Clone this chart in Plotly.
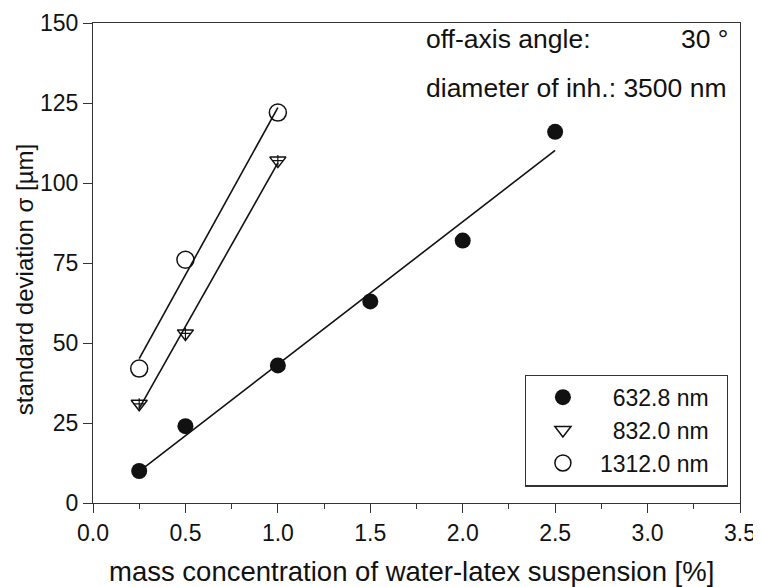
import numpy as np
import plotly.graph_objects as go

# data
x_6328 = [0.25, 0.5, 1.0, 1.5, 2.0, 2.5]
y_6328 = [10, 24, 43, 63, 82, 116]
x_8320 = [0.25, 0.5, 1.0]
y_8320 = [31, 53, 107]
x_13120 = [0.25, 0.5, 1.0]
y_13120 = [42, 76, 122]
series_names = ["632.8 nm", "832.0 nm", "1312.0 nm"]
x_ticks = [0.0, 0.5, 1.0, 1.5, 2.0, 2.5, 3.0, 3.5]
y_ticks = [0, 25, 50, 75, 100, 125, 150]

FONT = "Liberation Sans, Arial, sans-serif"
INK = "#111111"

fig = go.Figure()

# linear fit lines
for xs, ys in [(x_6328, y_6328), (x_8320, y_8320), (x_13120, y_13120)]:
    k, b = np.polyfit(xs, ys, 1)
    xf = [min(xs), max(xs)]
    fig.add_trace(go.Scatter(x=xf, y=[k * v + b for v in xf], mode="lines",
                             line=dict(color=INK, width=1.6), showlegend=False,
                             hoverinfo="skip"))

pad = "\u2007"
fig.add_trace(go.Scatter(x=x_6328, y=y_6328, mode="markers", name=pad + series_names[0] + pad,
                         marker=dict(symbol="circle", size=16, color=INK)))
fig.add_trace(go.Scatter(x=x_8320, y=y_8320, mode="markers", name=pad + series_names[1] + pad,
                         marker=dict(symbol="triangle-down-open", size=14,
                                     color=INK, line=dict(width=1.5, color=INK))))
fig.add_trace(go.Scatter(x=x_8320, y=y_8320, mode="markers", showlegend=False,
                         marker=dict(symbol="cross-thin-open", size=8,
                                     color=INK, line=dict(width=1.2, color=INK))))
fig.add_trace(go.Scatter(x=x_13120, y=y_13120, mode="markers", name=series_names[2] + pad,
                         marker=dict(symbol="circle-open", size=17,
                                     color=INK, line=dict(width=1.5, color=INK))))

ann_font = dict(size=26.5, color=INK, family=FONT)
fig.add_annotation(x=0.512, y=0.967, xref="paper", yref="paper", text="off-axis angle:",
                   showarrow=False, xanchor="left", yanchor="middle", font=ann_font)
fig.add_annotation(x=0.984, y=0.967, xref="paper", yref="paper", text="30 °",
                   showarrow=False, xanchor="right", yanchor="middle", font=ann_font)
fig.add_annotation(x=0.512, y=0.864, xref="paper", yref="paper",
                   text="diameter of inh.: 3500 nm",
                   showarrow=False, xanchor="left", yanchor="middle", font=ann_font)

# axis titles
fig.add_annotation(x=0.492, y=-0.142, xref="paper", yref="paper",
                   text="mass concentration of water-latex suspension [%]",
                   showarrow=False, xanchor="center", yanchor="middle",
                   font=dict(size=27.5, color=INK, family=FONT))
fig.add_annotation(x=-0.106, y=0.465, xref="paper", yref="paper",
                   text="standard deviation σ [µm]", textangle=-90,
                   showarrow=False, xanchor="center", yanchor="middle",
                   font=dict(size=24, color=INK, family=FONT))

axis_common = dict(showgrid=False, zeroline=False, showline=True, linecolor="#333333",
                   linewidth=1.2, mirror=True, ticks="outside", ticklen=9,
                   tickcolor="#333333", tickwidth=1.2, automargin=False,
                   tickfont=dict(size=23, color=INK, family=FONT))

fig.update_xaxes(range=[0, 3.5], tickvals=x_ticks,
                 ticktext=[f"{v:.1f}" for v in x_ticks],
                 minor=dict(dtick=0.25, tick0=0, ticks="outside", ticklen=5,
                            tickcolor="#333333", tickwidth=1.2),
                 **axis_common)
fig.update_yaxes(range=[0, 150], tickvals=y_ticks, **axis_common)

# the page body adds an 8px margin, so the figure is 8px smaller in each direction
fig.update_layout(
    width=753, height=579,
    margin=dict(l=85, r=21, t=15, b=84),
    paper_bgcolor="white", plot_bgcolor="white",
    font=dict(family=FONT, color=INK),
    legend=dict(x=0.981, y=0.151, xanchor="right", yanchor="middle",
                bordercolor="#333333", borderwidth=1.2, bgcolor="white",
                font=dict(size=23, color=INK, family=FONT),
                itemwidth=64, tracegroupgap=0),
)

fig.write_html("out.html")
